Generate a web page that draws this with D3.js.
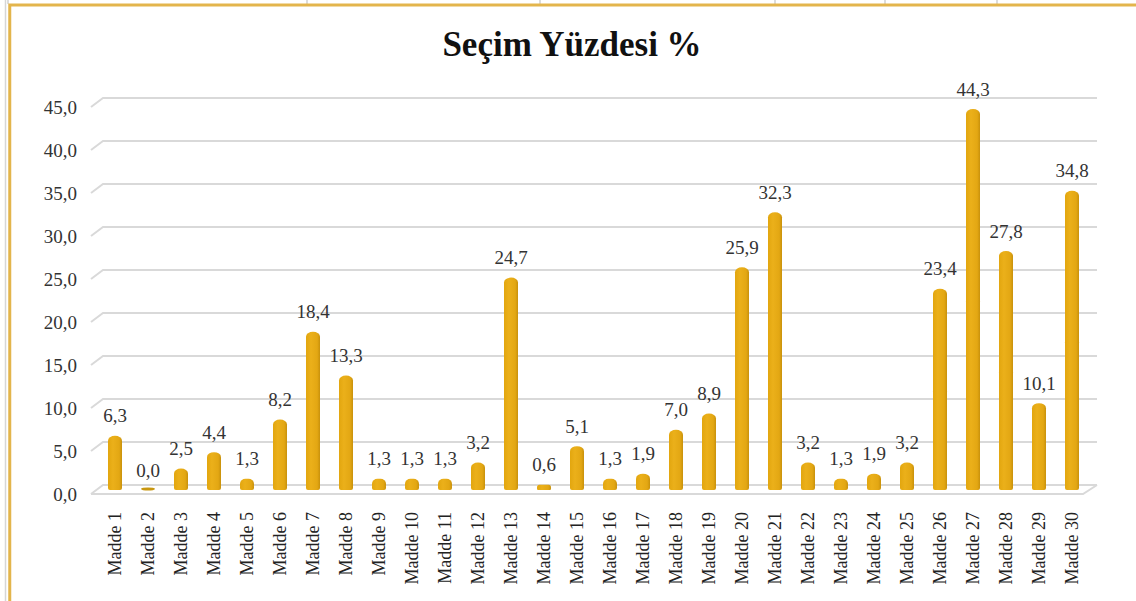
<!DOCTYPE html>
<html>
<head>
<meta charset="UTF-8">
<title>Seçim Yüzdesi</title>
<style>
  body { margin: 0; background: white; }
  svg { display: block; font-family: 'Liberation Serif', 'Times New Roman', serif; }
</style>
</head>
<body>
<svg id="chart" width="1136" height="601"></svg>
<script src="https://d3js.org/d3.v7.min.js"></script>
<script>
// data
const categories = d3.range(1, 31).map(i => "Madde " + i);
const values = [6.3, 0.0, 2.5, 4.4, 1.3, 8.2, 18.4, 13.3, 1.3, 1.3, 1.3, 3.2, 24.7, 0.6, 5.1,
                1.3, 1.9, 7.0, 8.9, 25.9, 32.3, 3.2, 1.3, 1.9, 3.2, 23.4, 44.3, 27.8, 10.1, 34.8];
const yTicks = [0, 5, 10, 15, 20, 25, 30, 35, 40, 45];
const title = "Seçim Yüzdesi %";
const cellLines = [8, 307, 540, 775, 885, 997]; // spreadsheet cell borders above the chart

const svg = d3.select("#chart");
const fmt = v => d3.format(".1f")(v).replace(".", ",");

// sheet bits behind the chart box
svg.selectAll("line.cell").data(cellLines).enter().append("line")
  .attr("x1", d => d).attr("x2", d => d).attr("y1", 0).attr("y2", 4)
  .attr("stroke", "#d0d0d0").attr("stroke-width", 1.5);
svg.append("line").attr("x1", 5.5).attr("x2", 5.5).attr("y1", 0).attr("y2", 601)
  .attr("stroke", "#d6d6d6").attr("stroke-width", 1.5);

// chart border (gold)
svg.append("path")
  .attr("d", "M9.75,601 V5 H1136")
  .attr("fill", "none").attr("stroke", "#e3b54c").attr("stroke-width", 3);

// title
svg.append("text")
  .attr("x", 572).attr("y", 56)
  .attr("text-anchor", "middle")
  .attr("font-size", 35).attr("font-weight", "bold").attr("fill", "#111")
  .text(title);

// scales
const x = d3.scalePoint().domain(categories).range([115, 1072]);
const yGrid = d3.scaleLinear().domain([0, 45]).range([485, 98]);
const yBar = d3.scaleLinear().domain([0, 45]).range([490, 103]);
const depth = 12, drop = 9;
const gx0 = 103, gx1 = 1097;

// 3d-ish gridlines (back wall + side slant)
const grid = svg.append("g").attr("fill", "none").attr("stroke", "#d9d9d9").attr("stroke-width", 2);
grid.selectAll("path").data(yTicks).enter().append("path")
  .attr("d", d => `M${gx0 - depth},${yGrid(d) + drop} L${gx0},${yGrid(d)} H${gx1}`);
// floor front edge
grid.append("path")
  .attr("d", `M${gx0 - depth},${yGrid(0) + drop} H${gx1 - 14} L${gx1},${yGrid(0)}`);

// y labels
svg.append("g").selectAll("text").data(yTicks).enter().append("text")
  .attr("x", 77).attr("y", d => yGrid(d) + drop)
  .attr("dy", "0.35em").attr("text-anchor", "end")
  .attr("font-size", 19).attr("fill", "#333")
  .text(fmt);

// bar gradient for the cylinder look
const grad = svg.append("defs").append("linearGradient").attr("id", "barGrad")
  .attr("x1", 0).attr("x2", 1).attr("y1", 0).attr("y2", 0);
grad.append("stop").attr("offset", "0%").attr("stop-color", "#e2a60f");
grad.append("stop").attr("offset", "35%").attr("stop-color", "#ebb01a");
grad.append("stop").attr("offset", "80%").attr("stop-color", "#e3a713");
grad.append("stop").attr("offset", "100%").attr("stop-color", "#c8910c");

const bw = 14;
const bars = svg.append("g");
categories.forEach((c, i) => {
  const v = values[i];
  const top = yBar(v), bottom = yBar(0);
  const h = bottom - top;
  if (h < 3) {
    bars.append("ellipse")
      .attr("cx", x(c)).attr("cy", bottom - 1)
      .attr("rx", bw / 2).attr("ry", 1.6)
      .attr("fill", "#c8960f");
  } else {
    const r = Math.min(bw / 2, h / 2);
    bars.append("rect")
      .attr("x", x(c) - bw / 2).attr("y", top)
      .attr("width", bw).attr("height", h)
      .attr("rx", r).attr("ry", Math.min(5, h / 2))
      .attr("fill", "url(#barGrad)");
    bars.append("rect")
      .attr("x", x(c) - bw / 2).attr("y", top + h / 2)
      .attr("width", bw).attr("height", h / 2)
      .attr("rx", 2)
      .attr("fill", "url(#barGrad)");
  }
});

// data labels
svg.append("g").selectAll("text").data(values).enter().append("text")
  .attr("x", (d, i) => x(categories[i]))
  .attr("y", d => yBar(d) - 20)
  .attr("dy", "0.35em").attr("text-anchor", "middle")
  .attr("font-size", 19).attr("fill", "#333")
  .text(fmt);

// category labels (rotated)
svg.append("g").selectAll("text").data(categories).enter().append("text")
  .attr("transform", d => `translate(${x(d)},512) rotate(-90)`)
  .attr("dy", "0.35em").attr("text-anchor", "end")
  .attr("font-size", 18).attr("fill", "#222")
  .text(d => d);
</script>
</body>
</html>
